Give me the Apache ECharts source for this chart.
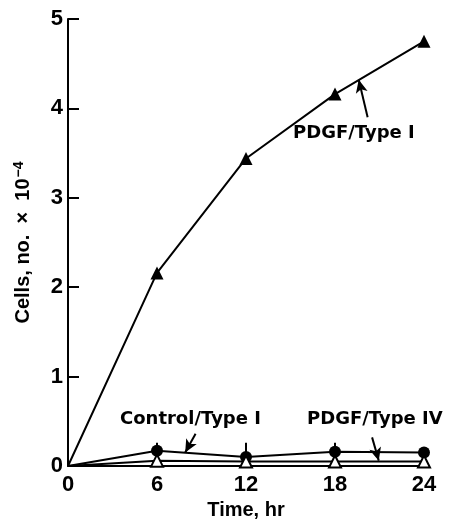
<!DOCTYPE html>
<html lang="en">
  <head>
    <meta charset="UTF-8" />
    <title>Cells vs time</title>
    <style>
      * {
        padding: 0;
        margin: 0;
      }
      html,
      body {
        width: 100%;
        height: 100%;
        background: #fff;
      }
      #main {
        width: 453px;
        height: 526px;
      }
    </style>
  </head>
  <body>
    <div id="main"></div>
    <script src="https://cdn.jsdelivr.net/npm/echarts@6/dist/echarts.min.js"></script>
    <script>
      // data
      var hours = [0, 6, 12, 18, 24];
      var pdgfType1 = [0, 2.16, 3.44, 4.16, 4.75];
      var controlType1 = [0, 0.17, 0.1, 0.16, 0.15];
      var controlErr = [0, 0.09, 0.16, 0.1, 0.06];
      var pdgfType4 = [0, 0.06, 0.05, 0.05, 0.05];
      var yTicks = [0, 1, 2, 3, 4, 5];

      var font = 'Liberation Sans, Arial, sans-serif';
      var noteFont = 'bold 18px DejaVu Sans, sans-serif';
      var myChart = echarts.init(document.getElementById('main'));

      // no marker at the origin, like the figure
      function pairs(vals) {
        return hours.map(function(h, i) {
          var p = {value: [h, vals[i]]};
          if (h === 0) p.symbol = 'none';
          return p;
        });
      }

      // arrows from the labels to the lines: [tail, tip]
      var arrows = [
        [[20.2, 3.9], [19.6, 4.32]],
        [[8.6, 0.36], [7.9, 0.15]],
        [[20.5, 0.32], [20.95, 0.06]],
      ];

      var option = {
        animation: false,
        grid: {
          left: 68,
          right: 29,
          top: 19,
          bottom: 60,
        },
        xAxis: {
          type: 'value',
          min: 0,
          max: 24,
          interval: 6,
          name: 'Time, hr',
          nameLocation: 'middle',
          nameGap: 34,
          nameTextStyle: {color: '#000', fontSize: 20, fontWeight: 'bold', fontFamily: font},
          axisLine: {lineStyle: {color: '#000', width: 2}},
          axisTick: {show: false},
          splitLine: {show: false},
          axisLabel: {color: '#000', fontSize: 22, fontWeight: 'bold', fontFamily: font, margin: 8},
        },
        yAxis: {
          type: 'value',
          min: 0,
          max: 5,
          interval: 1,
          name: 'Cells, no.  ×  10{sup|−4}',
          nameLocation: 'middle',
          nameGap: 34,
          nameTextStyle: {
            color: '#000',
            fontSize: 20,
            fontWeight: 'bold',
            fontFamily: font,
            rich: {
              sup: {fontSize: 14, fontWeight: 'bold', fontFamily: font, verticalAlign: 'top', padding: [0, 0, 8, 1]},
            },
          },
          axisLine: {show: true, lineStyle: {color: '#000', width: 2}},
          axisTick: {show: true, inside: true, length: 11, lineStyle: {color: '#000', width: 2}},
          splitLine: {show: false},
          axisLabel: {color: '#000', fontSize: 22, fontWeight: 'bold', fontFamily: font, margin: 5,
            formatter: function(v) {
              return yTicks.indexOf(v) >= 0 ? String(v) : '';
            }},
        },
        series: [
          {
            name: 'PDGF/Type I',
            type: 'line',
            data: pairs(pdgfType1),
            symbol: 'triangle',
            symbolSize: 13,
            showAllSymbol: true,
            lineStyle: {color: '#000', width: 2},
            itemStyle: {color: '#000'},
            markLine: {
              silent: true,
              symbol: ['none', 'arrow'],
              symbolSize: [9, 13],
              lineStyle: {color: '#000', width: 2, type: 'solid'},
              label: {show: false},
              data: arrows.map(function(a) {
                return [{coord: a[0]}, {coord: a[1]}];
              }),
            },
          },
          {
            name: 'Control/Type I',
            type: 'line',
            data: pairs(controlType1),
            symbol: 'circle',
            symbolSize: 12,
            lineStyle: {color: '#000', width: 2},
            itemStyle: {color: '#000'},
          },
          {
            name: 'PDGF/Type IV',
            type: 'line',
            data: pairs(pdgfType4),
            symbol: 'triangle',
            symbolSize: 12,
            lineStyle: {color: '#000', width: 2},
            itemStyle: {color: '#fff', borderColor: '#000', borderWidth: 2},
            z: 3,
          },
          {
            // error bars above the control points
            type: 'custom',
            silent: true,
            data: hours.map(function(h, i) {
              return [h, controlType1[i], controlType1[i] + controlErr[i]];
            }),
            renderItem: function(params, api) {
              if (api.value(0) === 0) return;
              var a = api.coord([api.value(0), api.value(1)]);
              var b = api.coord([api.value(0), api.value(2)]);
              return {
                type: 'line',
                shape: {x1: a[0], y1: a[1], x2: b[0], y2: b[1]},
                style: {stroke: '#000', lineWidth: 2},
              };
            },
            z: 1,
          },
        ],
        graphic: [
          {type: 'text', left: 293, top: 124, style: {text: 'PDGF/Type I', fill: '#000', font: noteFont}},
          {type: 'text', left: 120, top: 410, style: {text: 'Control/Type I', fill: '#000', font: noteFont}},
          {type: 'text', left: 307, top: 410, style: {text: 'PDGF/Type IV', fill: '#000', font: noteFont}},
        ],
      };
      myChart.setOption(option);
    </script>
  </body>
</html>
